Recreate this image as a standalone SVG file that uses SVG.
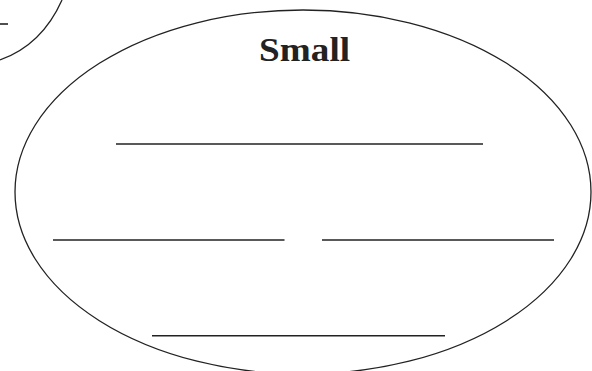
<svg xmlns="http://www.w3.org/2000/svg" width="592" height="371" viewBox="0 0 592 371">
  <style>
    .node { fill: none; stroke: #222; stroke-width: 1.3; }
    .blank { stroke: #222; stroke-width: 1.6; }
    .title { font-family: "Liberation Serif", "Times New Roman", serif; font-weight: bold; font-size: 33px; fill: #222; text-anchor: middle; }
  </style>
  <rect width="592" height="371" fill="#fff"/>
  <g id="node-upper-left">
    <path class="node" d="M 0 60 Q 42 45 62 0"/>
    <line class="blank" x1="0" y1="24" x2="8" y2="24"/>
  </g>
  <g id="node-small">
    <ellipse class="node" cx="303" cy="192" rx="288" ry="182"/>
    <text class="title" x="304.6" y="61" textLength="91" lengthAdjust="spacingAndGlyphs">Small</text>
    <line class="blank" x1="116" y1="144" x2="483" y2="144"/>
    <line class="blank" x1="53" y1="240" x2="284.5" y2="240"/>
    <line class="blank" x1="322" y1="240" x2="554" y2="240"/>
    <line class="blank" x1="152" y1="335.7" x2="445" y2="335.7"/>
  </g>
  <g id="connectors"></g>
</svg>
